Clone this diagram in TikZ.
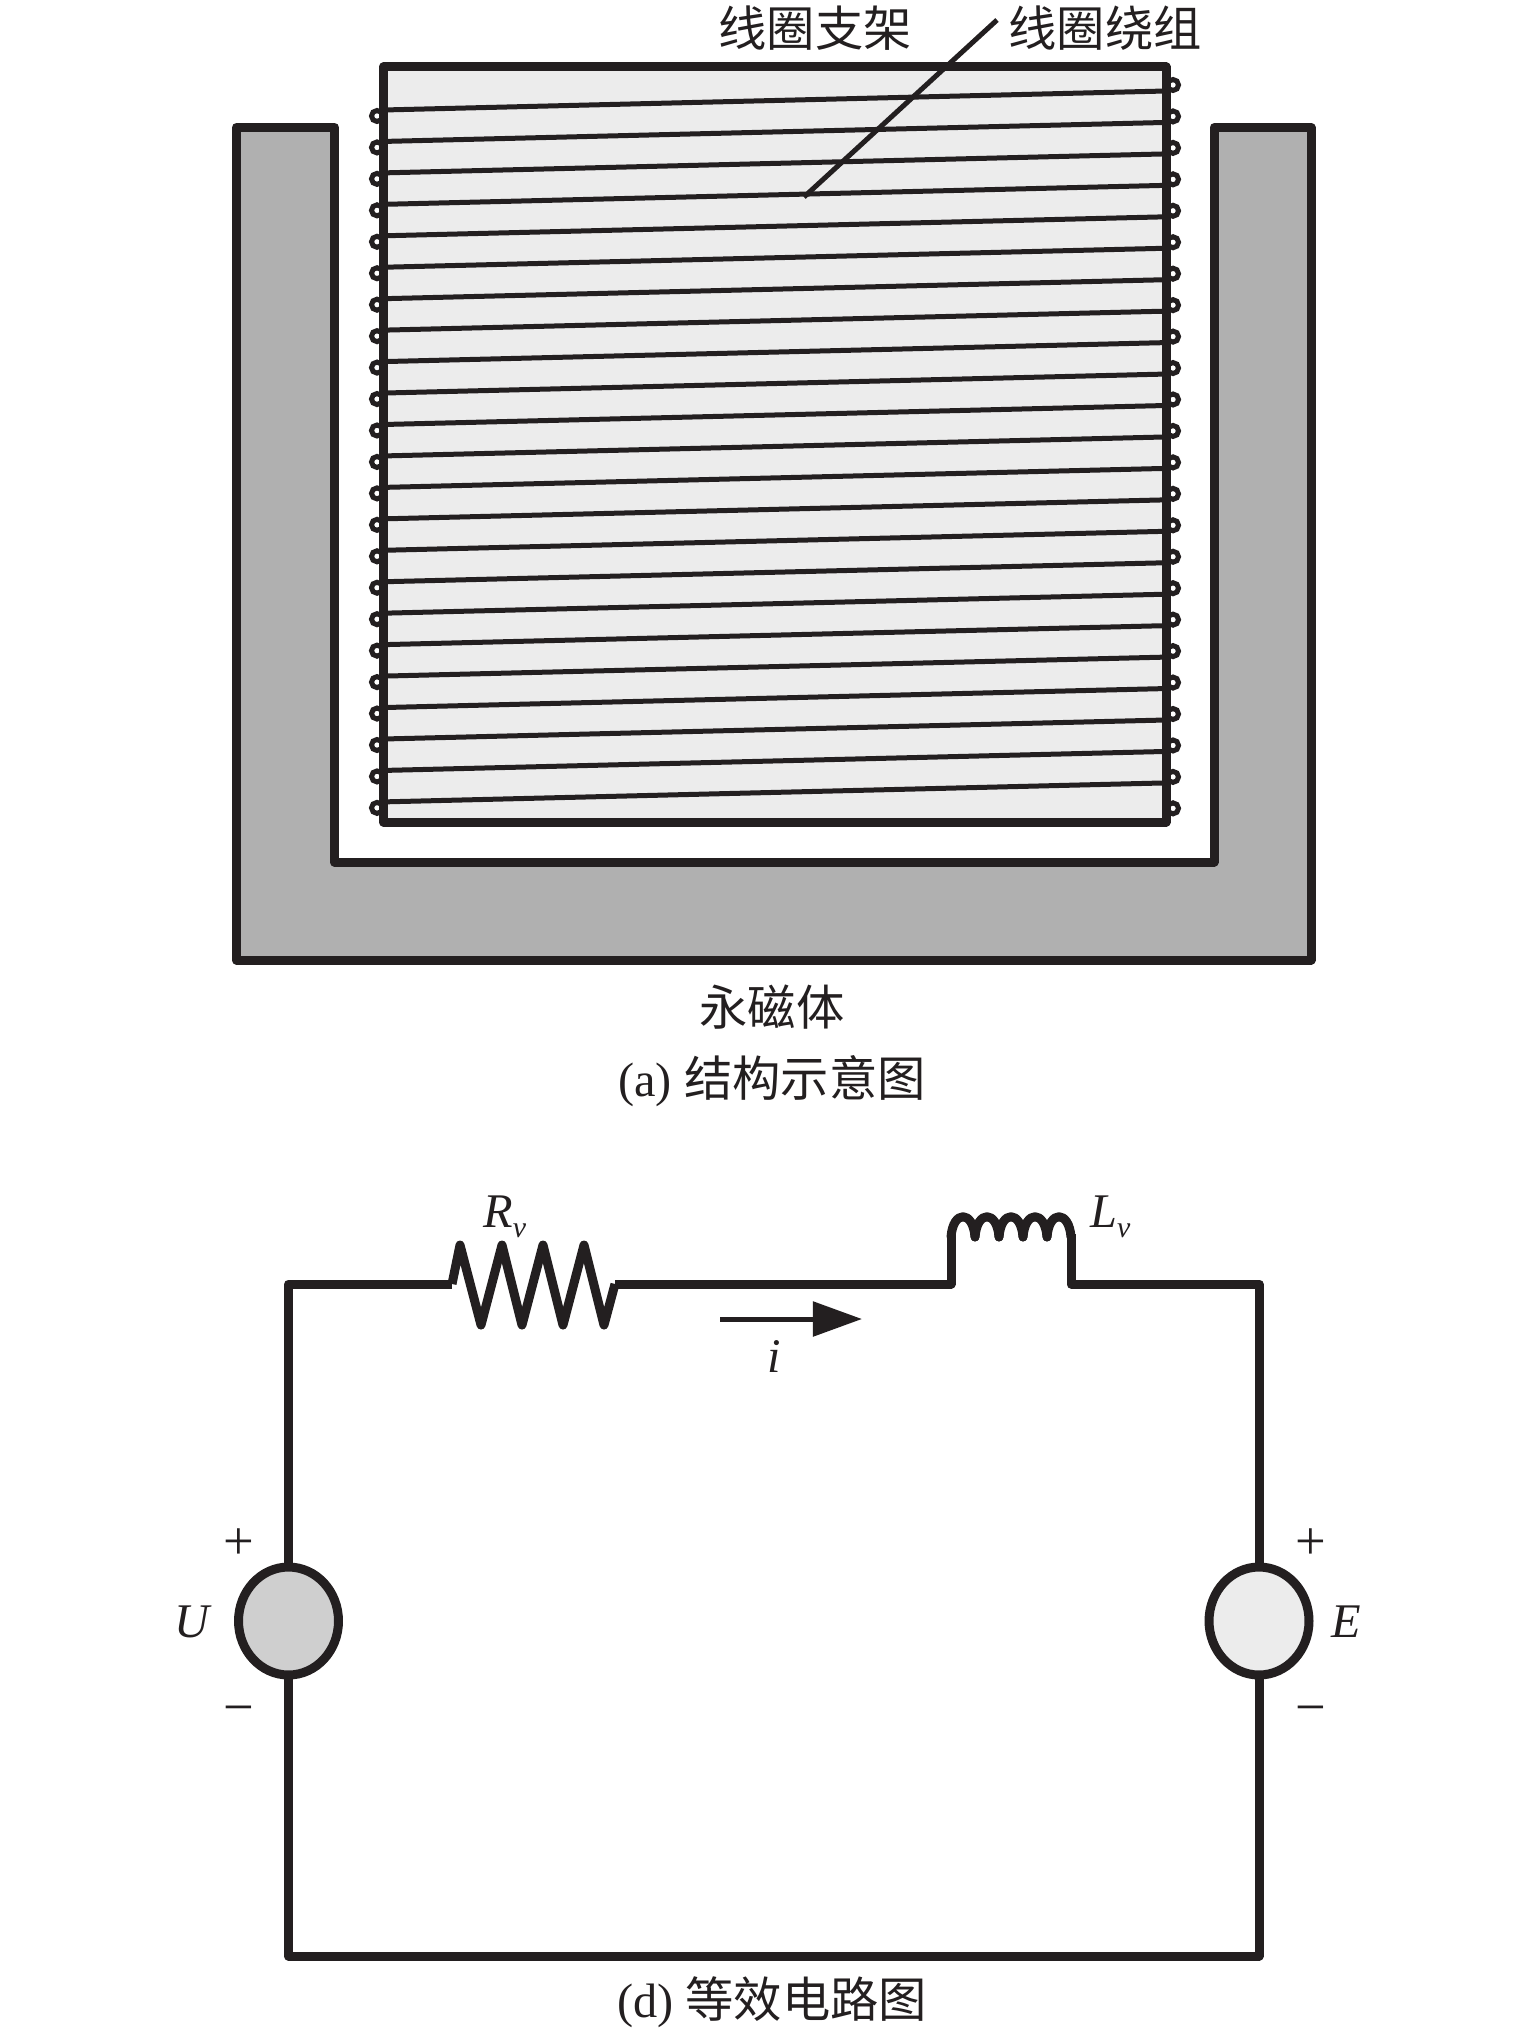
\documentclass[tikz,border=0pt]{standalone}
\usepackage{fontspec}
\usepackage{tikz}
\usetikzlibrary{arrows.meta}
\usetikzlibrary{shapes.geometric}
\setmainfont{Liberation Serif}
\newfontfamily\cjk{Noto Sans CJK SC}
\definecolor{ink}{HTML}{231F20}
\definecolor{framegray}{HTML}{ECECEC}
\definecolor{magnetgray}{HTML}{B0B0B0}
\definecolor{sourcegray}{HTML}{CFCFCF}
\newcommand{\subv}[1]{\textit{#1}\raisebox{-5.7pt}{\fontsize{17}{20}\selectfont\textit{v}}}

\begin{document}
\begin{tikzpicture}[x=0.02cm, y=-0.02cm,
  wire/.style={color=ink, line width=0.18cm, line join=round},
  thinwire/.style={color=ink, line width=0.1cm},
  turnloop/.style={color=ink, line width=0.1cm},
  txt/.style={color=ink, inner sep=0, font=\fontsize{27.5}{32}\selectfont},
  sign/.style={color=ink, inner sep=0, font=\fontsize{31}{36}\selectfont},
  source/.style={draw=ink, line width=0.18cm, ellipse, inner sep=0, outer sep=0, minimum width=2cm, minimum height=2.16cm}]
\useasboundingbox (0, 0) rectangle (1535, 2037);

% magnet
\draw[wire, fill=magnetgray] (236.5, 127.5) -- (334.5, 127.5) -- (334.5, 862) -- (1214, 862) -- (1214, 127.5) -- (1311, 127.5) -- (1311, 960) -- (236.5, 960) -- cycle;

% coil on its frame
\foreach \i in {0, ..., 22}
  \draw[turnloop, fill=white] (377, 116 + 31.45*\i) circle (0.11cm);
\foreach \i in {0, ..., 23}
  \draw[turnloop, fill=white] (1173, 85 + 31.45*\i) circle (0.11cm);
\draw[wire, fill=framegray] (383.5, 67) rectangle (1166, 822);
\foreach \i in {0, ..., 22}
  \draw[thinwire] (383.5, 110 + 31.45*\i) -- (1166, 91 + 31.45*\i);

\coordinate (leadertop) at (997, 20);
\coordinate (leaderend) at (804, 197);
\draw[thinwire] (leadertop) -- (leaderend);

\node[txt, anchor=center] (framelabel) at (815, 28) {\cjk 线圈支架};
\node[txt, anchor=center] (coillabel) at (1105, 28) {\cjk 线圈绕组};
\node[txt, anchor=center] (magnetlabel) at (772, 1007) {\cjk 永磁体};
\node[txt, anchor=center] (capa) at (772, 1081) {(a) {\cjk 结构示意图}};

% circuit
\node[source, fill=sourcegray] (srcU) at (288.5, 1621) {};
\node[source, fill=framegray] (srcE) at (1259, 1621) {};
\coordinate (resL) at (452, 1284);
\coordinate (resR) at (615, 1284);
\coordinate (indL) at (951, 1284);
\coordinate (indR) at (1071, 1284);
\coordinate (botL) at (288.5, 1956);
\coordinate (botR) at (1259, 1956);

\draw[wire] (srcU) |- (resL);
\draw[wire] (resL) -- (460, 1245) -- (481, 1325) -- (502, 1245) -- (522, 1325) -- (543, 1245) -- (563, 1325) -- (584, 1245) -- (604, 1325) -- (resR);
\draw[wire] (resR) -- (indL) -- (951, 1234);
\foreach \x in {951, 975, 999, 1023, 1047}
  \draw[wire, line cap=round] (\x, 1237) .. controls (\x + 2, 1210) and (\x + 22, 1210) .. (\x + 24, 1237);
\draw[wire] (1071, 1234) -- (indR) -| (srcE);
\draw[wire] (srcU) -- (botL) -- (botR) -- (srcE);

\coordinate (curL) at (720, 1319);
\coordinate (curR) at (862, 1319);
\draw[-{Triangle[length=28pt, width=19.5pt]}, thinwire] (curL) -- (curR);

\node[txt, anchor=base west] (Rlabel) at (483, 1227) {\subv{R}};
\node[txt, anchor=base west] (Llabel) at (1090, 1227) {\subv{L}};
\node[txt, anchor=base west] (ilabel) at (767, 1372) {\textit{i}};
\node[txt, anchor=base west] (Ulabel) at (174, 1637) {\textit{U}};
\node[txt, anchor=base west] (Elabel) at (1331, 1637) {\textit{E}};
\node[sign, anchor=center] (Uplus) at (239, 1544) {+};
\node[sign, anchor=center] (Uminus) at (239, 1716) {−};
\node[sign, anchor=center] (Eplus) at (1311, 1544) {+};
\node[sign, anchor=center] (Eminus) at (1311, 1716) {−};
\node[txt, anchor=center] (capd) at (772, 2002) {(d) {\cjk 等效电路图}};
\end{tikzpicture}
\end{document}
